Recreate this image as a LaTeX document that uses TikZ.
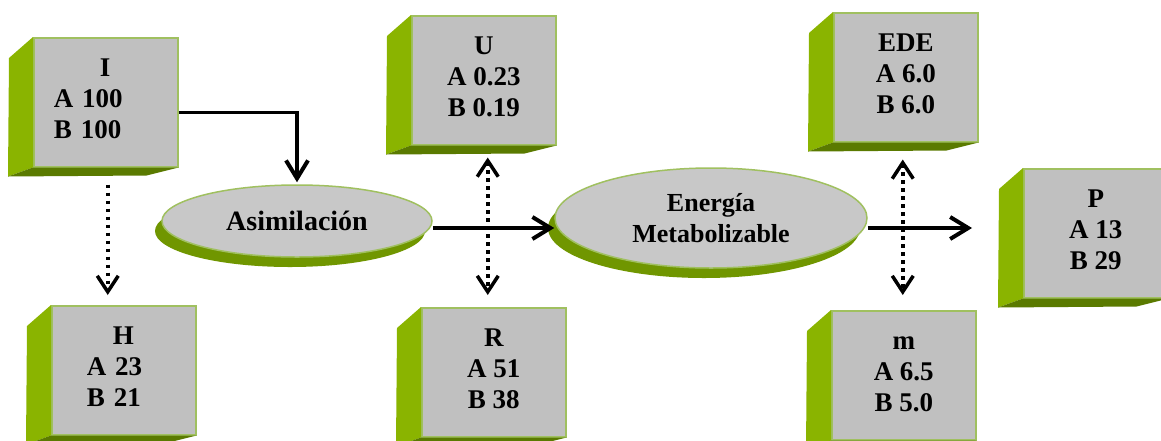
\documentclass[tikz,border=0pt]{standalone}
\usepackage{fontspec}
\setmainfont{Liberation Serif}
\usepackage{xcolor}
\usepackage{tikz}
\usetikzlibrary{arrows.meta,shapes.geometric,shadows}

\definecolor{grisfrente}{RGB}{192,192,192}
\definecolor{griselipse}{RGB}{200,200,200}
\definecolor{bordeverde}{RGB}{160,192,96}
\definecolor{verdelado}{RGB}{138,180,0}
\definecolor{verdebase}{RGB}{90,122,0}
\definecolor{verdesombra}{RGB}{112,150,0}

\begin{document}
\begin{tikzpicture}[
    x=1pt, y=-1pt,
    caja/.style={draw=bordeverde, line width=1.5pt, fill=grisfrente, anchor=north west,
                 minimum width=144pt, minimum height=129pt, align=center,
                 text height=81pt, text depth=8pt,
                 font=\fontsize{27}{31}\selectfont\bfseries},
    cajaizq/.style={caja, align=left, text width=#1, text height=19pt, text depth=70pt},
    elipse/.style={ellipse, draw=bordeverde, line width=1.5pt, fill=griselipse, inner sep=0pt,
                   align=center, font=\fontsize{26}{31}\selectfont\bfseries,
                   drop shadow={shadow xshift=-7pt, shadow yshift=-10pt,
                                fill=verdesombra, opacity=1}},
    flecha/.style={-{Straight Barb[length=18pt, width=22pt, line width=4pt]}, line width=3.5pt},
    punteada/.style={line width=3.5pt, dash pattern=on 3.5pt off 4.5pt}
  ]
    \useasboundingbox (0,0) rectangle (1161,440);
    % cajas
    \node[cajaizq=104pt] (I) at (33,37) {\hspace*{46pt}I\\A 100\\B 100};
    \node[cajaizq=74pt] (H) at (51,305) {\hspace*{26pt}H\\A 23\\B 21};
    \node[caja] (U) at (411,15) {U\\A 0.23\\B 0.19};
    \node[caja] (R) at (421,307) {R\\A 51\\B 38};
    \node[caja] (EDE) at (833,12) {EDE\\A 6.0\\B 6.0};
    \node[caja] (m) at (831,310) {m\\A 6.5\\B 5.0};
    \node[caja] (P) at (1023,168) {P\\A 13\\B 29};
    % caras laterales
    \foreach \c in {I,H,U,R,EDE,m,P} {
      \fill[verdelado] (\c.north west) -- ++(-24pt,-21pt)
        -- ([shift={(-25pt,-9pt)}]\c.south west) -- (\c.south west) -- cycle;
      \fill[verdebase] (\c.south west) -- ++(-25pt,-9pt)
        -- ([shift={(-32pt,-8pt)}]\c.south east) -- (\c.south east) -- cycle;
    }
    % elipses
    \node[elipse, minimum width=270pt, minimum height=72pt,
          font=\fontsize{28}{31}\selectfont\bfseries] (asim) at (297,221) {Asimilación};
    \node[elipse, minimum width=312pt, minimum height=100pt] (ener) at (711,218)
      {Energía\\Metabolizable};
    % flechas
    \draw[flecha] ([yshift=-10pt]I.east) -| ([yshift=2pt]asim.north);
    \draw[flecha] ([yshift=-7pt]asim.east) -- ([yshift=-7pt]asim.east -| ener.west);
    \draw[flecha, shorten >=51pt] ([yshift=-10pt]ener.east) -- ([yshift=-10pt]ener.east -| P.west);
    \draw[punteada, -{Straight Barb[length=16pt, width=21pt, line width=3.5pt]},
          shorten <=17pt, shorten >=10pt]
      ([xshift=2pt]I.south) -- ([xshift=2pt]I.south |- H.north);
    \draw[punteada, {Straight Barb[length=16pt, width=21pt, line width=3.5pt]}-{Straight Barb[length=16pt, width=21pt, line width=3.5pt]},
          shorten <=12pt, shorten >=12pt]
      ([xshift=4pt]U.south) -- ([xshift=4pt]U.south |- R.north);
    \draw[punteada, {Straight Barb[length=16pt, width=21pt, line width=3.5pt]}-{Straight Barb[length=16pt, width=21pt, line width=3.5pt]},
          shorten <=17pt, shorten >=15pt]
      ([xshift=-3pt]EDE.south) -- ([xshift=-3pt]EDE.south |- m.north);
  \end{tikzpicture}
\end{document}
